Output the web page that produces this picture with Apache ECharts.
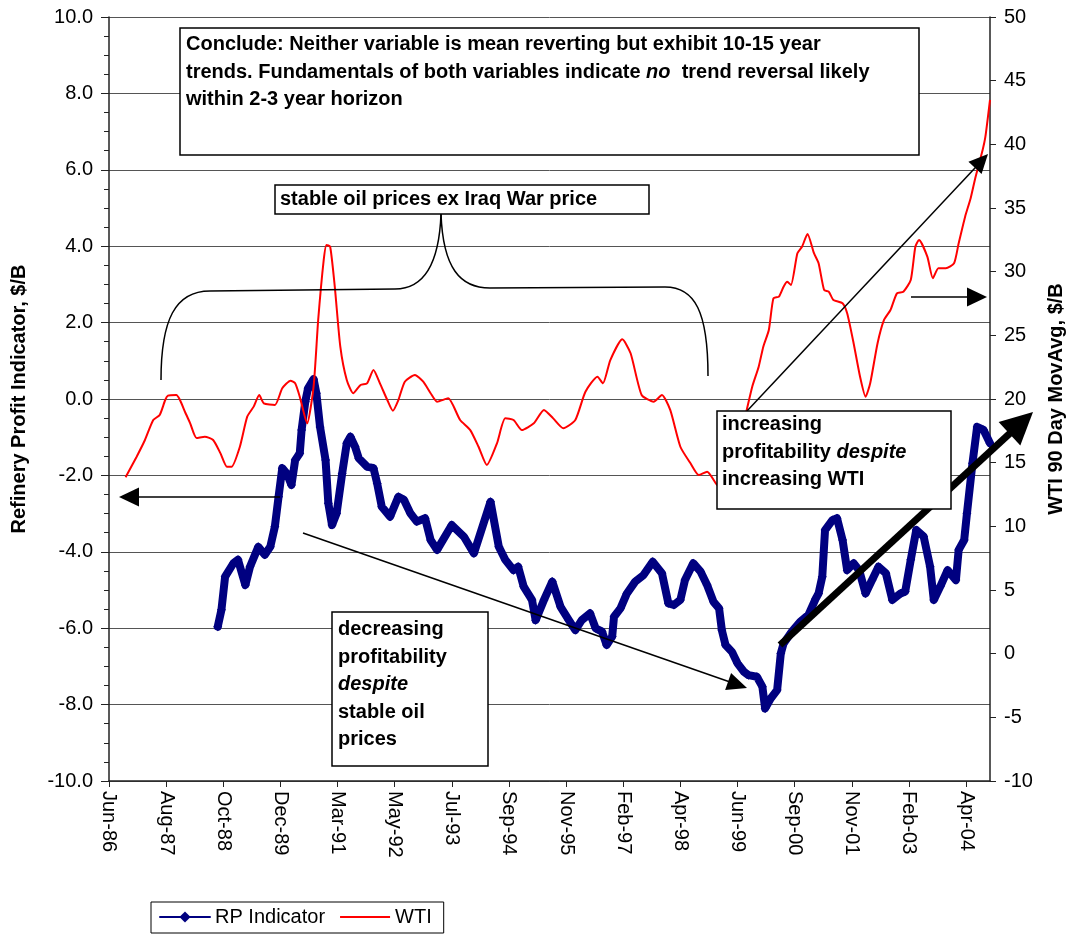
<!DOCTYPE html>
<html>
<head>
<meta charset="utf-8">
<title>Refinery Profit Indicator vs WTI</title>
<script src="https://cdn.jsdelivr.net/npm/echarts@6/dist/echarts.min.js"></script>
<style>
  html, body { margin: 0; padding: 0; background: #fff; }
  #chart { width: 1068px; height: 937px; }
</style>
</head>
<body>
<div id="chart"></div>
<script>
// x axis runs in weeks from the first week of June 1986; one labelled tick every 62 weeks
const tickLabels = ['Jun-86', 'Aug-87', 'Oct-88', 'Dec-89', 'Mar-91', 'May-92', 'Jul-93', 'Sep-94',
  'Nov-95', 'Feb-97', 'Apr-98', 'Jun-99', 'Sep-00', 'Nov-01', 'Feb-03', 'Apr-04'];
const weeksPerTick = 62;
const lastWeek = 956;

// WTI 90-day moving average, $/B (right axis)
const wtiWeek = [18, 30, 39, 48, 55, 61, 64, 73, 77, 83, 88, 95, 104, 113, 121, 128, 133, 142, 150, 157,
  163, 168, 180, 188, 197, 202, 207, 215, 222, 227, 233, 236, 240, 245, 251, 258, 265, 273, 280, 287,
  294, 302, 308, 314, 321, 332, 341, 349, 356, 368, 381, 392, 401, 410, 421, 430, 439, 448, 461, 472,
  482, 493, 506, 517, 530, 536, 544, 557, 566, 578, 591, 600, 609, 620, 631, 640, 649, 660, 670, 681,
  692, 698, 705, 710, 716, 721, 727, 732, 736, 740, 747, 752, 758, 765, 770, 776, 781, 786, 796, 801,
  808, 815, 821, 826, 834, 841, 848, 855, 862, 870, 875, 879, 888, 894, 900, 908, 917, 922, 929, 935,
  940, 948, 951, 956];
const wtiPrice = [13.85, 15.47, 16.78, 18.35, 18.74, 19.92, 20.26, 20.31, 19.92, 18.90, 18.11, 16.94, 17.04, 16.78, 15.73, 14.68, 14.68, 16.25, 18.61, 19.40,
  20.31, 19.66, 19.53, 20.84, 21.44, 21.23, 20.18, 18.09, 20.97, 26.21, 30.92, 32.10, 31.96, 28.82, 24.11, 21.49, 20.45, 21.10, 21.23, 22.28,
  21.23, 19.92, 19.08, 19.92, 21.36, 21.89, 21.36, 20.45, 19.79, 20.05, 18.35, 17.56, 16.25, 14.82, 16.52, 18.48, 18.35, 17.56, 18.09, 19.14,
  18.48, 17.70, 18.35, 20.57, 21.75, 21.23, 23.06, 24.69, 23.59, 20.31, 19.79, 20.31, 19.14, 16.25, 14.95, 14.03, 14.29, 13.24, 12.80, 15.80,
  19.14, 20.97, 22.54, 24.11, 25.42, 27.91, 28.04, 28.82, 29.21, 28.96, 31.45, 31.96, 32.96, 31.45, 30.66, 28.56, 28.43, 27.78, 27.52, 26.73,
  24.38, 21.75, 20.18, 21.23, 24.38, 26.21, 26.99, 28.30, 28.43, 29.35, 31.96, 32.49, 31.18, 29.48, 30.27, 30.27, 30.66, 32.23, 34.32, 35.77,
  37.34, 39.56, 40.60, 43.50];

// Refinery profit indicator, $/B (left axis)
const rpWeek = [118, 122, 126, 135, 140, 148, 153, 162, 169, 175, 180, 184, 188, 193, 198, 202, 207, 209, 213, 216,
  222, 225, 229, 235, 238, 242, 247, 253, 258, 262, 267, 271, 280, 287, 291, 296, 305, 314, 320, 327,
  334, 343, 349, 356, 372, 385, 396, 414, 423, 430, 439, 444, 450, 459, 463, 472, 481, 490, 499, 506,
  513, 522, 528, 535, 540, 546, 548, 555, 562, 571, 580, 590, 600, 607, 613, 620, 625, 634, 642, 649,
  656, 662, 665, 669, 676, 682, 689, 694, 703, 709, 712, 718, 725, 729, 732, 741, 750, 759, 767, 770,
  774, 777, 785, 790, 796, 801, 808, 814, 821, 828, 835, 843, 850, 859, 864, 870, 876, 884, 891, 895,
  902, 910, 919, 922, 928, 931, 937, 942, 949, 956];
const rpValue = [-5.96, -5.52, -4.65, -4.30, -4.21, -4.87, -4.39, -3.87, -4.08, -3.87, -3.34, -2.56, -1.81, -1.95, -2.25, -1.60, -1.42, -0.81, -0.07, 0.28,
  0.52, 0.15, -0.73, -1.60, -2.73, -3.30, -2.99, -1.95, -1.16, -0.99, -1.25, -1.55, -1.77, -1.81, -2.21, -2.82, -3.08, -2.56, -2.64, -2.99,
  -3.21, -3.12, -3.69, -3.95, -3.30, -3.60, -4.04, -2.69, -3.87, -4.21, -4.48, -4.39, -4.91, -5.26, -5.79, -5.26, -4.78, -5.44, -5.79, -6.05,
  -5.79, -5.61, -6.00, -6.09, -6.44, -6.22, -5.70, -5.48, -5.09, -4.78, -4.61, -4.26, -4.56, -5.35, -5.39, -5.26, -4.74, -4.30, -4.52, -4.87,
  -5.31, -5.48, -6.05, -6.44, -6.62, -6.92, -7.14, -7.23, -7.27, -7.53, -8.10, -7.84, -7.62, -6.66, -6.40, -6.09, -5.83, -5.65, -5.22, -5.09,
  -4.65, -3.43, -3.17, -3.12, -3.69, -4.48, -4.30, -4.48, -5.09, -4.74, -4.39, -4.56, -5.26, -5.09, -5.04, -4.21, -3.43, -3.60, -4.39, -5.26,
  -4.91, -4.48, -4.74, -3.95, -3.69, -2.99, -1.68, -0.73, -0.81, -1.16];

const FONT = '"Liberation Sans", Arial, Helvetica, sans-serif';

const zip = (xs, ys) => xs.map((x, i) => [x, ys[i]]);

// ---- annotation helpers (pixel space) ----
function box(x, y, w, h, lineWidth) {
  return {
    type: 'rect', z: 100,
    shape: { x: x, y: y, width: w, height: h },
    style: { fill: '#fff', stroke: '#000', lineWidth: lineWidth || 1.5 }
  };
}
const richStyles = {
  b: { fontFamily: FONT, fontSize: 20, fontWeight: 'bold', fill: '#000', lineHeight: 27.5 },
  bi: { fontFamily: FONT, fontSize: 20, fontWeight: 'bold', fontStyle: 'italic', fill: '#000', lineHeight: 27.5 }
};
function note(x, y, text) {
  return {
    type: 'text', z: 101, x: x, y: y,
    style: { text: text, rich: richStyles, fontFamily: FONT, fontSize: 20, fontWeight: 'bold',
      fill: '#000', verticalAlign: 'top', align: 'left' }
  };
}
function arrow(x1, y1, x2, y2, width, headLen, headW) {
  const dx = x2 - x1, dy = y2 - y1;
  const len = Math.sqrt(dx * dx + dy * dy);
  const ux = dx / len, uy = dy / len;
  const nx = -uy, ny = ux;
  const bx = x2 - ux * headLen, by = y2 - uy * headLen;
  return {
    type: 'group', z: 99,
    children: [
      { type: 'line', z: 99, shape: { x1: x1, y1: y1, x2: bx + ux * 2, y2: by + uy * 2 },
        style: { stroke: '#000', lineWidth: width } },
      { type: 'polygon', z: 99,
        shape: { points: [[x2, y2], [bx + nx * headW / 2, by + ny * headW / 2], [bx - nx * headW / 2, by - ny * headW / 2]] },
        style: { fill: '#000' } }
    ]
  };
}
function curve(x1, y1, c1x, c1y, c2x, c2y, x2, y2) {
  return {
    type: 'bezierCurve', z: 98,
    shape: { x1: x1, y1: y1, cpx1: c1x, cpy1: c1y, cpx2: c2x, cpy2: c2y, x2: x2, y2: y2 },
    style: { fill: null, stroke: '#000', lineWidth: 1.5 }
  };
}
function segment(x1, y1, x2, y2) {
  return {
    type: 'line', z: 98,
    shape: { x1: x1, y1: y1, x2: x2, y2: y2 },
    style: { stroke: '#000', lineWidth: 1.5 }
  };
}

const chart = echarts.init(document.getElementById('chart'), null, { renderer: 'canvas' });

const option = {
  backgroundColor: '#fff',
  animation: false,
  textStyle: { fontFamily: FONT },
  grid: { left: 109, right: 78, top: 17, bottom: 156, containLabel: false, outerBoundsMode: 'none' },
  legend: {
    left: 151, top: 902,
    padding: [5, 12, 6, 8],
    itemGap: 14, itemWidth: 50, itemHeight: 14,
    borderColor: '#000', borderWidth: 1,
    backgroundColor: '#fff',
    textStyle: { fontFamily: FONT, fontSize: 20, color: '#000' },
    lineStyle: { width: 2 },
    data: [
      { name: 'RP Indicator' },
      { name: 'WTI', itemStyle: { opacity: 0 } }
    ]
  },
  xAxis: {
    type: 'value', min: 0, max: lastWeek, interval: weeksPerTick,
    axisLine: { show: true, onZero: false, lineStyle: { color: '#222', width: 1.5 } },
    axisTick: { show: true, length: 6, lineStyle: { color: '#222' } },
    splitLine: { show: false },
    axisLabel: {
      rotate: -90, margin: 10, fontSize: 20, color: '#000', fontFamily: FONT,
      showMaxLabel: false,
      formatter: function (v) {
        if (v % weeksPerTick !== 0) return '';
        return tickLabels[v / weeksPerTick] || '';
      }
    }
  },
  yAxis: [
    {
      type: 'value', min: -10, max: 10, interval: 2, position: 'left',
      name: 'Refinery Profit Indicator, $/B', nameLocation: 'middle', nameRotate: 90, nameGap: 80,
      nameTextStyle: { fontFamily: FONT, fontSize: 20, fontWeight: 'bold', color: '#000' },
      axisLine: { show: true, lineStyle: { color: '#222', width: 1.5 } },
      axisTick: { show: true, length: 8, lineStyle: { color: '#222' } },
      minorTick: { show: true, splitNumber: 4, length: 5, lineStyle: { color: '#222' } },
      splitLine: { show: true, lineStyle: { color: '#555', width: 1 } },
      axisLabel: { margin: 16, fontSize: 20, color: '#000', fontFamily: FONT,
        formatter: v => v.toFixed(1) }
    },
    {
      type: 'value', min: -10, max: 50, interval: 5, position: 'right',
      name: 'WTI 90 Day MovAvg, $/B', nameLocation: 'middle', nameRotate: 90, nameGap: 56,
      nameTextStyle: { fontFamily: FONT, fontSize: 20, fontWeight: 'bold', color: '#000' },
      axisLine: { show: true, lineStyle: { color: '#222', width: 1.5 } },
      axisTick: { show: true, length: 6, lineStyle: { color: '#222' } },
      splitLine: { show: false },
      axisLabel: { margin: 14, fontSize: 20, color: '#000', fontFamily: FONT }
    }
  ],
  series: [
    {
      name: 'RP Indicator', type: 'line', yAxisIndex: 0,
      data: zip(rpWeek, rpValue),
      color: '#000080',
      lineStyle: { color: '#000080', width: 8, join: 'round', cap: 'round' },
      itemStyle: { color: '#000080' },
      symbol: 'diamond', symbolSize: 9, showSymbol: true,
      z: 3
    },
    {
      name: 'WTI', type: 'line', yAxisIndex: 1,
      data: zip(wtiWeek, wtiPrice),
      color: '#ff0000',
      lineStyle: { color: '#ff0000', width: 2 },
      symbol: 'none', showSymbol: false, smooth: 0.2,
      z: 4
    }
  ],
  graphic: [
    // bracket spanning the stable-price years
    curve(161, 380, 161, 320, 175, 291, 210, 291),
    segment(210, 291, 395, 289),
    curve(395, 289, 422, 289, 439, 268, 441, 214),
    curve(441, 214, 443, 268, 460, 288, 490, 288),
    segment(490, 288, 665, 287),
    curve(665, 287, 695, 287, 708, 312, 708, 376),

    arrow(280, 497, 119, 497, 1.5, 20, 19),
    arrow(911, 297, 987, 297, 1.5, 20, 19),
    arrow(303, 533, 747, 688, 1.5, 20, 18),
    arrow(747, 411, 988, 154, 1.5, 19, 18),
    arrow(780, 645, 1033, 412, 7, 32, 32),

    box(180, 28, 739, 127),
    note(186, 31, '{b|Conclude: Neither variable is mean reverting but exhibit 10-15 year}\n' +
      '{b|trends. Fundamentals of both variables indicate }{bi|no}{b|  trend reversal likely}\n' +
      '{b|within 2-3 year horizon}'),

    box(275, 185, 374, 29),
    note(280, 186, '{b|stable oil prices ex Iraq War price}'),

    box(332, 612, 156, 154),
    note(338, 616, '{b|decreasing}\n{b|profitability}\n{bi|despite}\n{b|stable oil}\n{b|prices}'),

    box(717, 411, 234, 98),
    note(722, 411, '{b|increasing}\n{b|profitability }{bi|despite}\n{b|increasing WTI}')
  ]
};

chart.setOption(option);
</script>
</body>
</html>
